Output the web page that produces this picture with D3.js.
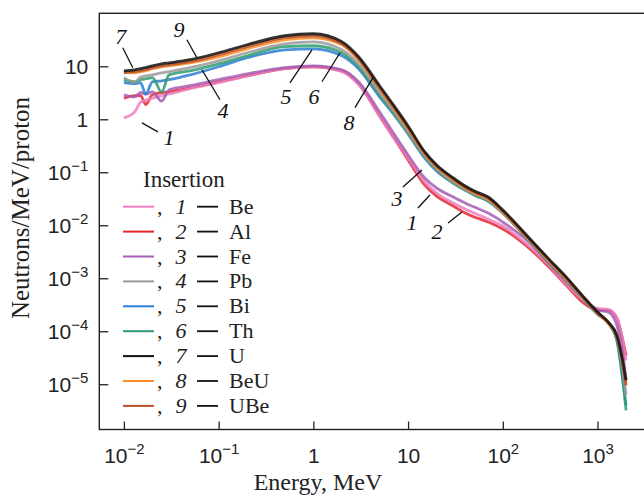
<!DOCTYPE html>
<html>
<head>
<meta charset="utf-8">
<script src="https://cdn.jsdelivr.net/npm/d3@7"></script>
<style>
  body { margin: 0; background: #fff; }
  svg { display: block; font-family: "Liberation Serif", "Times New Roman", serif; }
</style>
</head>
<body>
<svg id="chart" width="644" height="496"></svg>
<script>
// energy grid, MeV
const energy = [0.01, 0.013, 0.015, 0.017, 0.02, 0.025, 0.03, 0.05, 0.1, 0.2, 0.5, 1, 2, 3, 5, 7, 10,
  15, 20, 30, 40, 50, 70, 100, 200, 300, 500, 700, 1000, 1300, 1600, 1800, 2000];

// neutrons / MeV / proton
const be = [1.06, 1.38, 2.1, 2.3, 2.5, 2.8, 3.0, 3.8, 4.9, 6.6, 9.0, 9.8, 7.9, 4.5, 1.16, 0.46, 0.186,
  0.0656, 0.0406, 0.0263, 0.0202, 0.0170, 0.0131, 0.0097, 0.0037, 0.00185, 6.8e-4, 3.9e-4, 2.7e-4, 2.6e-4, 1.76e-4, 8.4e-5, 2.8e-5];
const al = [2.5, 2.8, 2.8, 1.9, 2.9, 3.2, 3.3, 3.9, 5.1, 6.6, 9.0, 9.8, 8.2, 4.7, 1.16, 0.46, 0.171,
  0.0575, 0.0356, 0.0231, 0.0170, 0.0143, 0.0115, 0.0085, 0.0034, 0.0017, 6.5e-4, 3.5e-4, 2.5e-4, 2.5e-4, 1.76e-4, 8.4e-5, 3.5e-5];
const fe = [2.9, 2.65, 3.2, 3.0, 3.3, 2.2, 3.6, 4.3, 5.6, 7.2, 9.4, 10.2, 8.6, 5.1, 1.38, 0.55, 0.212,
  0.078, 0.0505, 0.0341, 0.0263, 0.0221, 0.0170, 0.0115, 0.0044, 0.0020, 7.7e-4, 4.2e-4, 2.5e-4, 2.3e-4, 1.30e-4, 5.4e-5, 1.19e-5];
const pb = [6.1, 5.0, 6.3, 6.6, 6.9, 7.5, 7.9, 9.4, 12.7, 18.0, 26.6, 29.0, 20.5, 11.1, 3.2, 1.44, 0.58,
  0.203, 0.115, 0.0656, 0.0483, 0.0389, 0.0299, 0.0170, 0.0048, 0.0022, 8.4e-4, 4.2e-4, 2.1e-4, 1.42e-4, 7.4e-5, 2.6e-5, 6.2e-6];
const bi = [4.9, 4.7, 4.9, 3.0, 5.1, 5.3, 5.6, 6.9, 9.8, 14.5, 20.5, 21.4, 15.8, 9.0, 2.65, 1.26, 0.53,
  0.186, 0.106, 0.0628, 0.0463, 0.0372, 0.0286, 0.0170, 0.0046, 0.0021, 8.1e-4, 4.2e-4, 2.1e-4, 1.42e-4, 6.8e-5, 1.68e-5, 4.0e-6];
const th = [5.6, 5.1, 5.6, 5.8, 6.1, 3.3, 6.9, 8.2, 11.1, 15.8, 23.4, 24.4, 18.0, 9.8, 2.9, 1.32, 0.55,
  0.195, 0.110, 0.0628, 0.0463, 0.0372, 0.0286, 0.0170, 0.0046, 0.0021, 8.1e-4, 4.2e-4, 2.1e-4, 1.42e-4, 6.8e-5, 1.83e-5, 3.2e-6];
const u = [8.2, 8.6, 9.0, 9.4, 10.2, 11.1, 11.6, 13.3, 18.0, 25.5, 37.7, 41.1, 29.0, 15.1, 4.3, 1.87, 0.75,
  0.242, 0.137, 0.078, 0.0551, 0.0443, 0.0341, 0.0194, 0.0052, 0.0024, 9.2e-4, 4.6e-4, 2.3e-4, 1.48e-4, 8.4e-5, 3.5e-5, 1.19e-5];
const beu = [7.9, 7.5, 7.9, 8.2, 9.0, 9.8, 10.2, 11.6, 15.1, 21.4, 31.7, 34.6, 25.5, 13.3, 3.8, 1.64, 0.66,
  0.222, 0.126, 0.0715, 0.0505, 0.0406, 0.0313, 0.0178, 0.0048, 0.0022, 8.4e-4, 4.4e-4, 2.2e-4, 1.42e-4, 8.1e-5, 3.4e-5, 1.04e-5];
const ube = [7.5, 7.9, 8.2, 8.6, 9.4, 10.2, 10.7, 12.2, 16.5, 23.4, 34.6, 37.7, 26.6, 13.9, 3.9, 1.71, 0.69,
  0.232, 0.132, 0.075, 0.0527, 0.0424, 0.0327, 0.0185, 0.0050, 0.0023, 8.8e-4, 4.4e-4, 2.2e-4, 1.48e-4, 7.7e-5, 3.1e-5, 9.5e-6];

const numbers = ['1', '2', '3', '4', '5', '6', '7', '8', '9'];
const names = ['Be', 'Al', 'Fe', 'Pb', 'Bi', 'Th', 'U', 'BeU', 'UBe'];
const colors = ['#ec7fbf', '#e8262f', '#a65db5', '#999999', '#2a7fd4', '#2e9c6e', '#111111', '#fb8c2a', '#b9542a'];
const values = [be, al, fe, pb, bi, th, u, beu, ube];

const xTicks = [0.01, 0.1, 1, 10, 100, 1000];
const xTickLabels = [['10', '−2'], ['10', '−1'], ['1', ''], ['10', ''], ['10', '2'], ['10', '3']];
const yTicks = [10, 1, 0.1, 0.01, 1e-3, 1e-4, 1e-5];
const yTickLabels = [['10', ''], ['1', ''], ['10', '−1'], ['10', '−2'], ['10', '−3'], ['10', '−4'], ['10', '−5']];

// curve labels: series index, point on the curve [E, value], line start and label offsets (px)
const notes = [
  {i: 6, e: 0.0124, v: 9.4,  sx: -10, sy: -20, tx: -12, ty: -31},
  {i: 8, e: 0.059,  v: 14.5, sx: -10, sy: -18, tx: -18, ty: -28},
  {i: 3, e: 0.0667, v: 8.6,  sx: 18,  sy: 30,  tx: 21,  ty: 41},
  {i: 0, e: 0.0155, v: 0.855, sx: 16, sy: 9,   tx: 27,  ty: 15},
  {i: 4, e: 0.967,  v: 20.5, sx: -22, sy: 33,  tx: -26, ty: 47},
  {i: 5, e: 1.91,   v: 18.0, sx: -18, sy: 29,  tx: -26, ty: 44},
  {i: 7, e: 4.26,   v: 6.1,  sx: -18, sy: 30,  tx: -24, ty: 45},
  {i: 2, e: 14.0,   v: 0.110, sx: -19, sy: 17, tx: -25, ty: 28},
  {i: 0, e: 17.0,   v: 0.0372, sx: -12, sy: 13, tx: -18, ty: 27},
  {i: 1, e: 37.1,   v: 0.0178, sx: -14, sy: 11, tx: -25, ty: 19}
];

const svg = d3.select('#chart');
const plotLeft = 99.3, plotRight = 650, plotTop = 13.3, plotBottom = 429.5;

const x = d3.scaleLog().domain([0.0055, 3580]).range([plotLeft, plotRight]);
const y = d3.scaleLog().domain([1.4e-6, 100]).range([plotBottom, plotTop]);

// curves
const line = d3.line()
  .x(d => x(d[0]))
  .y(d => y(d[1]))
  .curve(d3.curveMonotoneX);

const drawOrder = [1, 0, 2, 4, 5, 3, 7, 8, 6];
svg.append('g')
  .selectAll('path')
  .data(drawOrder)
  .join('path')
  .attr('d', i => line(energy.map((e, k) => [e, values[i][k]])))
  .attr('fill', 'none')
  .attr('stroke', i => colors[i])
  .attr('stroke-width', 2.8)
  .attr('stroke-opacity', 0.85)
  .attr('stroke-linejoin', 'round');

// axes
function superLabel(sel, labels) {
  sel.each(function (d, i) {
    const t = d3.select(this).text(null);
    t.append('tspan').text(labels[i][0]);
    if (labels[i][1]) {
      t.append('tspan').attr('dy', -9).attr('font-size', 15).text(labels[i][1]);
    }
  });
}

const xAxis = svg.append('g')
  .attr('transform', `translate(0, ${plotBottom})`)
  .call(d3.axisBottom(x).tickValues(xTicks).tickSizeInner(-8).tickSizeOuter(0).tickFormat(''));
xAxis.select('.domain').remove();
xAxis.selectAll('.tick line').attr('stroke', '#222').attr('stroke-width', 1.3);
xAxis.selectAll('.tick text')
  .attr('y', 33).attr('dy', 0)
  .attr('font-size', 21).attr('fill', '#222')
  .call(superLabel, xTickLabels);

const yAxis = svg.append('g')
  .attr('transform', `translate(${plotLeft}, 0)`)
  .call(d3.axisLeft(y).tickValues(yTicks).tickSizeInner(-9).tickSizeOuter(0).tickFormat(''));
yAxis.select('.domain').remove();
yAxis.selectAll('.tick line').attr('stroke', '#222').attr('stroke-width', 1.3);
yAxis.selectAll('.tick text')
  .attr('x', -11).attr('dy', '0.34em')
  .attr('font-size', 21).attr('fill', '#222')
  .call(superLabel, yTickLabels);

svg.append('rect')
  .attr('x', plotLeft).attr('y', plotTop)
  .attr('width', plotRight - plotLeft).attr('height', plotBottom - plotTop)
  .attr('fill', 'none').attr('stroke', '#222').attr('stroke-width', 1.4);

// axis titles
svg.append('text')
  .attr('x', 318).attr('y', 490)
  .attr('text-anchor', 'middle')
  .attr('font-size', 24).attr('fill', '#222')
  .text('Energy, MeV');

svg.append('text')
  .attr('transform', 'translate(29, 208) rotate(-90)')
  .attr('text-anchor', 'middle')
  .attr('font-size', 25).attr('fill', '#222')
  .text('Neutrons/MeV/proton');

// curve labels
const noteG = svg.append('g');
notes.forEach(n => {
  const px = x(n.e), py = y(n.v);
  noteG.append('line')
    .attr('x1', px).attr('y1', py)
    .attr('x2', px + n.sx).attr('y2', py + n.sy)
    .attr('stroke', '#111').attr('stroke-width', 1.3);
  noteG.append('text')
    .attr('x', px + n.tx).attr('y', py + n.ty)
    .attr('text-anchor', 'middle').attr('dominant-baseline', 'central')
    .attr('font-style', 'italic').attr('font-size', 22).attr('fill', '#111')
    .text(numbers[n.i]);
});

// legend
const legend = svg.append('g');
legend.append('text')
  .attr('x', 143).attr('y', 187)
  .attr('font-size', 23).attr('fill', '#222')
  .text('Insertion');

const rows = legend.selectAll('g.row')
  .data(names)
  .join('g')
  .attr('class', 'row')
  .attr('transform', (d, i) => `translate(0, ${206.7 + i * 24.9})`);
rows.append('line')
  .attr('x1', 123).attr('x2', 154)
  .attr('stroke', (d, i) => colors[i]).attr('stroke-width', 2);
rows.append('text')
  .attr('x', 157).attr('y', 7)
  .attr('font-size', 22).attr('fill', '#222')
  .text(',');
rows.append('text')
  .attr('x', 181).attr('y', 7)
  .attr('text-anchor', 'middle')
  .attr('font-style', 'italic').attr('font-size', 22).attr('fill', '#222')
  .text((d, i) => numbers[i]);
rows.append('line')
  .attr('x1', 197).attr('x2', 218)
  .attr('stroke', '#111').attr('stroke-width', 1.8);
rows.append('text')
  .attr('x', 229).attr('y', 7)
  .attr('font-size', 22).attr('fill', '#222')
  .text(d => d);
</script>
</body>
</html>
